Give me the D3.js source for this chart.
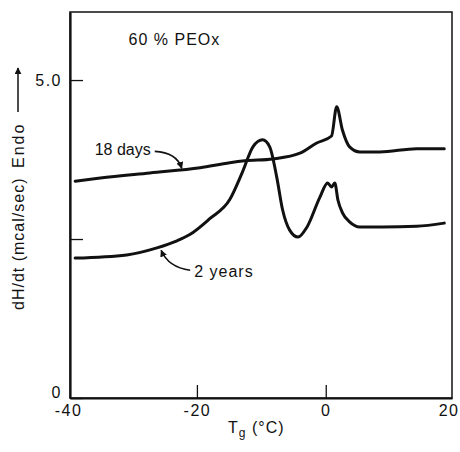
<!DOCTYPE html>
<html>
<head>
<meta charset="utf-8">
<script src="https://cdn.jsdelivr.net/npm/d3@7"></script>
<style>
  body { margin: 0; background: #fff; }
  svg { display: block; font-family: "Liberation Sans", Arial, sans-serif; }
  .txt { fill: #111; font-size: 16px; }
  .axis text { fill: #111; font-size: 16px; letter-spacing: 1.5px; }
  .axis line, .axis path { stroke: #111; }
</style>
</head>
<body>
<div class="app"></div>
<script>
'use strict'

// 18 days curve
var temps18d = [-38.9, -35.0, -27.3, -19.5, -14.9, -12.6, -8.2, -4.0, -1.4, 0.9, 1.7, 2.6, 3.7, 5.3, 8.4, 14.1, 18.4];
var heat18d  = [3.41, 3.46, 3.54, 3.62, 3.70, 3.73, 3.76, 3.85, 4.01, 4.12, 4.58, 4.21, 3.95, 3.87, 3.87, 3.92, 3.92];

// 2 years curve
var temps2y = [-38.9, -30.9, -26.2, -23.1, -21.1, -18.0, -14.9, -12.9, -11.3, -9.8, -8.7, -7.6, -6.7, -5.6, -4.3, -2.9, -0.9, 0.3, 0.9, 1.4, 1.9, 2.6, 3.7, 5.3, 8.8, 14.1, 18.4];
var heat2y  = [2.20, 2.25, 2.36, 2.47, 2.57, 2.82, 3.12, 3.56, 3.95, 4.06, 3.95, 3.47, 2.96, 2.64, 2.53, 2.69, 3.16, 3.38, 3.32, 3.38, 3.11, 2.91, 2.77, 2.69, 2.69, 2.70, 2.75];

// ticks
var xTicks = [-40, -20, 0, 20];
var yTicks = [0, 2.5, 5];
var yTickLabels = ["0", "", "5.0"];

var series = [
  { name: "18 days", data: temps18d.map((t, i) => ({ t: t, h: heat18d[i] })) },
  { name: "2 years", data: temps2y.map((t, i) => ({ t: t, h: heat2y[i] })) }
];

var W = 460, H = 452;

var x = d3.scaleLinear().domain([-39.7, 19.6]).range([70, 452]);
var y = d3.scaleLinear().domain([0, 6.07]).range([398, 12]);

var svg = d3.select(".app").append("svg")
  .attr("width", W)
  .attr("height", H);

// arrowhead
svg.append("defs").append("marker")
  .attr("id", "head")
  .attr("viewBox", "0 0 10 10")
  .attr("refX", 9).attr("refY", 5)
  .attr("markerWidth", 7).attr("markerHeight", 7)
  .attr("markerUnits", "userSpaceOnUse")
  .attr("orient", "auto")
  .append("path")
  .attr("d", "M0,0 L10,5 L0,10 z")
  .attr("fill", "#111");

// frame (top and right)
svg.append("rect")
  .attr("x", x.range()[0])
  .attr("y", y.range()[1])
  .attr("width", x.range()[1] - x.range()[0])
  .attr("height", y.range()[0] - y.range()[1])
  .attr("fill", "none")
  .attr("stroke", "#111")
  .attr("stroke-width", 1.5);

// x axis
var xAxis = d3.axisBottom(x)
  .tickValues(xTicks)
  .tickSizeInner(-13)
  .tickSizeOuter(0)
  .tickPadding(7)
  .tickFormat(d => d < 0 ? "-" + Math.abs(d) : String(d));

var gx = svg.append("g")
  .attr("class", "axis")
  .attr("transform", "translate(0," + y(0) + ")")
  .call(xAxis);
gx.select(".domain").attr("stroke-width", 2.2);
gx.selectAll(".tick line")
  .attr("stroke-width", 1.3)
  .filter(d => d === -40 || d === 20).remove();
gx.selectAll(".tick").filter(d => d === 20).select("text").attr("dx", -6);

// y axis
var yAxis = d3.axisLeft(y)
  .tickValues(yTicks)
  .tickSizeInner(-13)
  .tickSizeOuter(0)
  .tickPadding(8)
  .tickFormat((d, i) => yTickLabels[i]);

var gy = svg.append("g")
  .attr("class", "axis")
  .attr("transform", "translate(" + x.range()[0] + ",0)")
  .call(yAxis);
gy.select(".domain").attr("stroke-width", 2.2);
gy.selectAll(".tick line").attr("stroke-width", 1.3);
gy.selectAll(".tick").filter(d => d === 0).select("text").attr("dy", "-0.05em");

// curves
var line = d3.line()
  .curve(d3.curveMonotoneX)
  .x(d => x(d.t))
  .y(d => y(d.h));

svg.append("g").selectAll("path")
  .data(series)
  .join("path")
  .attr("d", d => line(d.data))
  .attr("fill", "none")
  .attr("stroke", "#111")
  .attr("stroke-width", 3)
  .attr("stroke-linejoin", "round")
  .attr("stroke-linecap", "round");

// title
svg.append("text")
  .attr("class", "txt")
  .attr("x", x(-30.6))
  .attr("y", 45)
  .attr("letter-spacing", 1)
  .text("60 % PEOx");

// curve labels with leader arrows
var p18 = [x(-22.2), y(3.58)];
svg.append("text")
  .attr("class", "txt")
  .attr("x", p18[0] - 88)
  .attr("y", p18[1] - 15)
  .text("18 days");
svg.append("path")
  .attr("d", "M" + (p18[0] - 28) + "," + (p18[1] - 19) +
             " Q" + (p18[0] - 6) + "," + (p18[1] - 18) + " " + (p18[0] - 1) + "," + (p18[1] - 2))
  .attr("fill", "none")
  .attr("stroke", "#111")
  .attr("stroke-width", 1.6)
  .attr("marker-end", "url(#head)");

var p2 = [x(-25.7), y(2.37)];
svg.append("text")
  .attr("class", "txt")
  .attr("x", p2[0] + 34)
  .attr("y", p2[1] + 30)
  .attr("letter-spacing", 1)
  .text("2 years");
svg.append("path")
  .attr("d", "M" + (p2[0] + 30) + "," + (p2[1] + 23) +
             " Q" + (p2[0] + 8) + "," + (p2[1] + 20) + " " + (p2[0] + 1) + "," + (p2[1] + 3))
  .attr("fill", "none")
  .attr("stroke", "#111")
  .attr("stroke-width", 1.6)
  .attr("marker-end", "url(#head)");

// x axis title
var xt = svg.append("text")
  .attr("class", "txt")
  .attr("x", 228)
  .attr("y", 433)
  .attr("letter-spacing", 1);
xt.append("tspan").text("T");
xt.append("tspan").attr("dy", 4).attr("font-size", 12).text("g");
xt.append("tspan").attr("dy", -4).text(" (°C)");

// y axis title
svg.append("text")
  .attr("class", "txt")
  .attr("transform", "translate(24,310) rotate(-90)")
  .attr("letter-spacing", 1)
  .text("dH/dt (mcal/sec)");
svg.append("text")
  .attr("class", "txt")
  .attr("transform", "translate(24,168) rotate(-90)")
  .attr("letter-spacing", 2)
  .text("Endo");
svg.append("line")
  .attr("x1", 18).attr("y1", 112)
  .attr("x2", 18).attr("y2", 68)
  .attr("stroke", "#111")
  .attr("stroke-width", 1.5)
  .attr("marker-end", "url(#head)");
</script>
</body>
</html>
